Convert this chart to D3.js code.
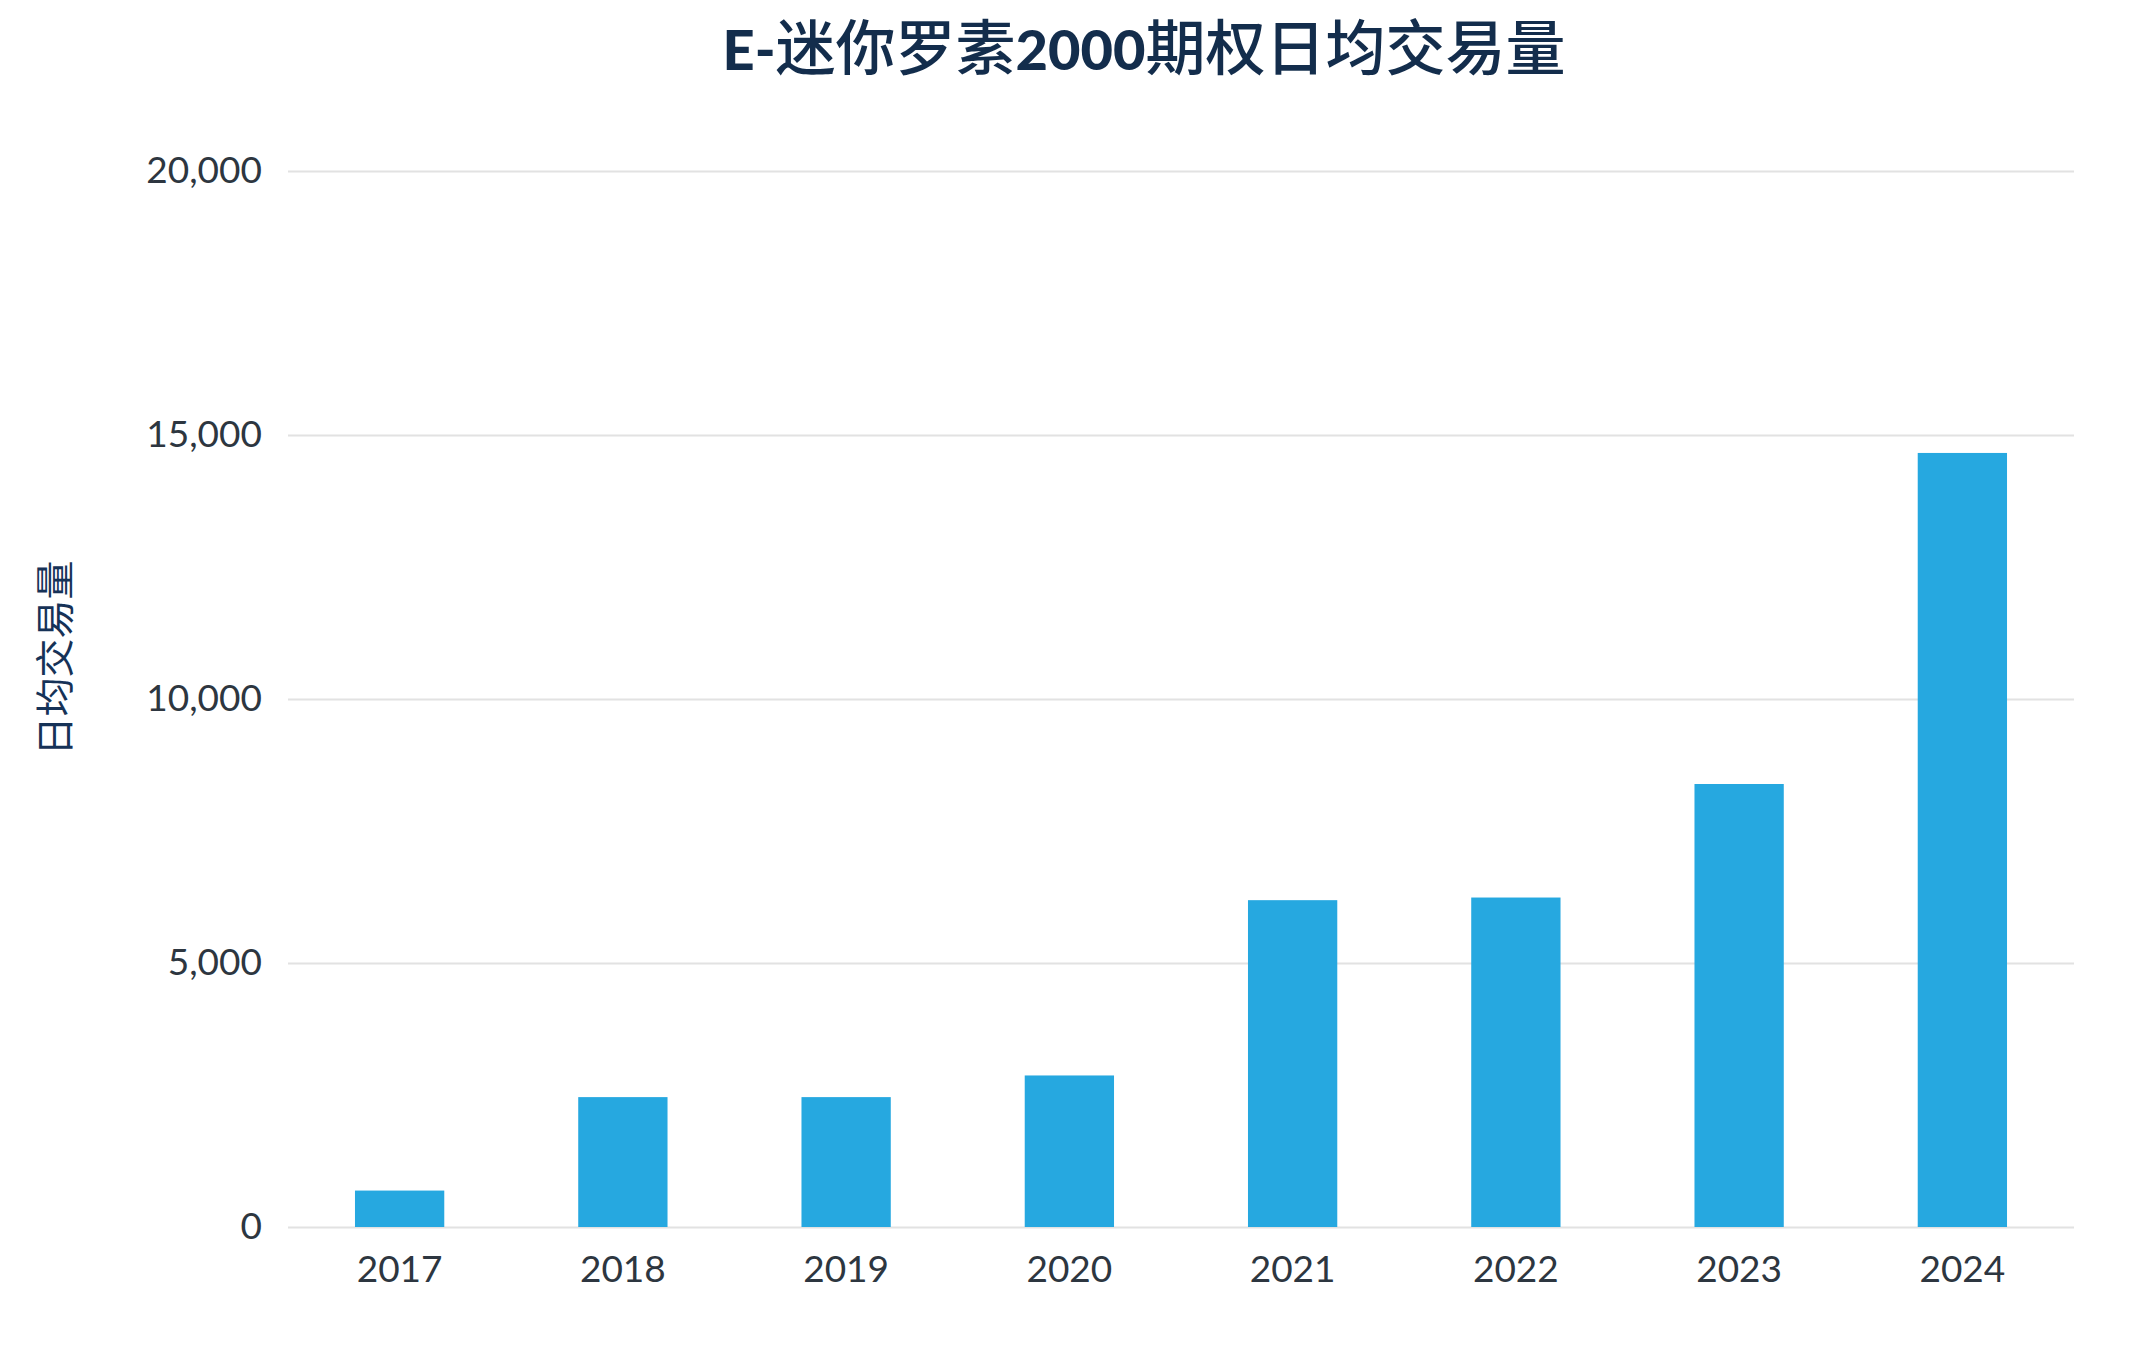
<!DOCTYPE html>
<html>
<head>
<meta charset="utf-8">
<script src="https://cdn.jsdelivr.net/npm/d3@7"></script>
<style>
  body { margin: 0; background: #fff; }
  .tick text { font-family: Lato, "Noto Sans", sans-serif; fill: #2d3640; }
</style>
</head>
<body>
<div id="chart"></div>
<script>
// --- data ---
const years  = ["2017", "2018", "2019", "2020", "2021", "2022", "2023", "2024"];
const volume = [690, 2460, 2460, 2870, 6190, 6240, 8390, 14660];
const yTicks = [0, 5000, 10000, 15000, 20000];
const title  = "E-迷你罗素2000期权日均交易量";
const yLabel = "日均交易量";

// --- sizing ---
const W = 2145, H = 1370;
const plot = { left: 288, right: 2074, top: 171, bottom: 1227 };

const svg = d3.select("#chart").append("svg")
  .attr("width", W).attr("height", H);

svg.append("rect").attr("width", W).attr("height", H).attr("fill", "#fff");

const x = d3.scaleBand().domain(years)
  .range([plot.left, plot.right])
  .paddingInner(0.6).paddingOuter(0.3);
const y = d3.scaleLinear().domain([0, 20000]).range([plot.bottom, plot.top]);

// gridlines + y labels
const yAxisG = svg.append("g")
  .attr("transform", `translate(${plot.left},0)`)
  .call(d3.axisLeft(y).tickValues(yTicks)
    .tickSize(-(plot.right - plot.left)).tickPadding(26)
    .tickFormat(d3.format(",")));
yAxisG.select(".domain").remove();
yAxisG.selectAll(".tick line").attr("stroke", "#e2e2e2").attr("stroke-width", 2);
yAxisG.selectAll(".tick text").attr("font-size", 37);

// bars
svg.append("g").selectAll("rect.bar")
  .data(years.map((yr, i) => ({ yr, v: volume[i] })))
  .join("rect")
  .attr("class", "bar")
  .attr("x", d => x(d.yr))
  .attr("width", x.bandwidth())
  .attr("y", d => y(d.v))
  .attr("height", d => y(0) - y(d.v))
  .attr("fill", "#26a8e0");

// x labels
const xAxisG = svg.append("g")
  .attr("transform", `translate(0,${plot.bottom})`)
  .call(d3.axisBottom(x).tickSize(0).tickPadding(29));
xAxisG.select(".domain").remove();
xAxisG.selectAll(".tick text").attr("font-size", 37);

// title: latin runs bold, CJK runs regular
const titleT = svg.append("text")
  .attr("x", 1144).attr("y", 70)
  .attr("text-anchor", "middle")
  .attr("fill", "#132d4c");
title.match(/[A-Za-z0-9\-]+|[^A-Za-z0-9\-]+/g).forEach(run => {
  const latin = /^[A-Za-z0-9\-]+$/.test(run);
  titleT.append("tspan")
    .attr("font-family", latin ? "Lato, sans-serif" : "'Noto Sans CJK SC', sans-serif")
    .attr("font-weight", latin ? 900 : 500)
    .attr("font-size", latin ? 56 : 60)
    .text(run);
});

// y-axis title
svg.append("text")
  .attr("transform", "translate(69,658) rotate(-90)")
  .attr("text-anchor", "middle")
  .attr("font-family", "'Noto Sans CJK SC', sans-serif")
  .attr("font-size", 39)
  .attr("fill", "#163257")
  .text(yLabel);
</script>
</body>
</html>
